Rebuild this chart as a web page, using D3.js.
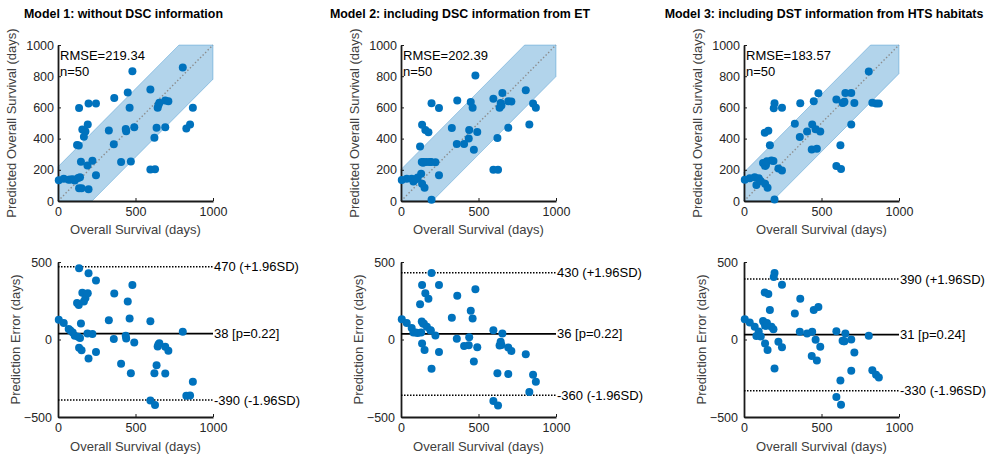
<!DOCTYPE html>
<html>
<head>
<meta charset="utf-8">
<script src="https://cdn.jsdelivr.net/npm/d3@7/dist/d3.min.js"></script>
<style>
  html, body { margin: 0; padding: 0; background: #fff; }
  svg { display: block; font-family: "Liberation Sans", Arial, Helvetica, sans-serif; }
</style>
</head>
<body>
<svg id="chart" width="989" height="458"></svg>
<script>
// ---------------- data ----------------
const titles = [
  "Model 1: without DSC information",
  "Model 2: including DSC information from ET",
  "Model 3: including DST information from HTS habitats"
];
// observed overall survival (days), shared by the three models
const osDays = [5,37,69,80,95,108,123,130,134,136,136,142,148,152,157,167,177,190,192,197,
                197,222,245,245,328,360,363,407,437,440,450,462,470,480,492,596,596,622,626,636,
                643,648,654,692,692,712,805,828,852,870];
const predModel1 = [133,143,136,138,140,132,359,148,356,596,82,152,252,82,459,412,445,228,490,625,
                    75,258,625,165,452,364,660,250,462,447,695,598,253,832,472,714,202,405,203,470,
                    598,615,630,473,645,640,855,465,490,598];
const predModel2 = [135,143,143,125,140,150,350,175,250,488,110,245,250,85,455,250,440,250,250,626,
                    8,248,596,165,468,365,645,365,400,455,635,598,328,805,442,656,200,404,200,598,
                    628,612,692,470,640,638,710,490,625,598];
const predModel3 = [136,146,152,103,146,128,243,239,437,110,225,230,255,85,450,358,260,256,595,626,
                    10,208,598,195,495,410,626,445,330,490,640,460,335,690,445,650,225,357,205,628,
                    632,636,693,692,490,628,830,630,625,625];
const predictions = [predModel1, predModel2, predModel3];
const rmse = [219.34, 202.39, 183.57];
const nObs = [50, 50, 50];
const meanDiff = [38, 36, 31];
const pValues = [0.22, 0.22, 0.24];
const upperLoA = [470, 430, 390];
const lowerLoA = [-390, -360, -330];
const xTicks = [0, 500, 1000];
const topYTicks = [0, 200, 400, 600, 800, 1000];
const bottomYTicks = [-500, 0, 500];

// ---------------- layout ----------------
const svg = d3.select("#chart");
const blue = "#0072BD";
const panelLeft = [58, 401, 744];
const panelWidth = 155;
const titleCenter = [123.5, 460, 824];
const topRow = { top: 45, bottom: 201 };
const botRow = { top: 262, bottom: 417 };

function styleAxis(g) {
  g.select(".domain").attr("stroke", "#1a1a1a").attr("stroke-width", 1.8);
  g.selectAll(".tick line").attr("stroke", "#1a1a1a").attr("stroke-width", 1);
  g.selectAll(".tick text").attr("fill", "#262626").attr("font-size", 12.5);
}

for (let m = 0; m < 3; m++) {
  const x0 = panelLeft[m];
  const pred = predictions[m];

  // title
  svg.append("text")
    .attr("x", titleCenter[m]).attr("y", 18)
    .attr("text-anchor", "middle")
    .attr("font-weight", "bold").attr("font-size", 12.4)
    .attr("fill", "#000")
    .text(titles[m]);

  // ---------- top scatter ----------
  const xs = d3.scaleLinear().domain([0, 1000]).range([x0, x0 + panelWidth]);
  const ys = d3.scaleLinear().domain([0, 1000]).range([topRow.bottom, topRow.top]);
  const g = svg.append("g");

  const r = rmse[m];
  const band = [[0, 0], [0, r], [1000 - r, 1000], [1000, 1000], [1000, 1000 - r], [r, 0]];
  g.append("path")
    .attr("d", d3.line().x(d => xs(d[0])).y(d => ys(d[1]))(band) + "Z")
    .attr("fill", blue).attr("fill-opacity", 0.3)
    .attr("stroke", blue).attr("stroke-opacity", 0.3).attr("stroke-width", 1);

  g.append("line")
    .attr("x1", xs(0)).attr("y1", ys(0)).attr("x2", xs(1000)).attr("y2", ys(1000))
    .attr("stroke", "#8c8c8c").attr("stroke-width", 1.4).attr("stroke-dasharray", "1.4,2.2");

  const axB = g.append("g").attr("transform", `translate(0,${topRow.bottom})`)
    .call(d3.axisBottom(xs).tickValues(xTicks).tickSizeInner(-3).tickSizeOuter(0).tickPadding(6).tickFormat(d3.format("d")));
  styleAxis(axB);
  const axL = g.append("g").attr("transform", `translate(${x0},0)`)
    .call(d3.axisLeft(ys).tickValues(topYTicks).tickSizeInner(-3).tickSizeOuter(0).tickPadding(4).tickFormat(d3.format("d")));
  styleAxis(axL);

  g.selectAll("circle.pt").data(osDays).join("circle")
    .attr("class", "pt")
    .attr("cx", d => xs(d)).attr("cy", (d, i) => ys(pred[i]))
    .attr("r", 4).attr("fill", blue);

  g.append("text").attr("x", x0 + 2).attr("y", 60)
    .attr("font-size", 13).attr("fill", "#000")
    .text("RMSE=" + rmse[m].toFixed(2));
  g.append("text").attr("x", x0 + 2).attr("y", 76)
    .attr("font-size", 13).attr("fill", "#000")
    .text("n=" + nObs[m]);

  g.append("text")
    .attr("x", x0 + panelWidth / 2).attr("y", 234)
    .attr("text-anchor", "middle").attr("font-size", 13).attr("fill", "#404040")
    .text("Overall Survival (days)");
  g.append("text")
    .attr("transform", `translate(${x0 - 42},${(topRow.top + topRow.bottom) / 2}) rotate(-90)`)
    .attr("text-anchor", "middle").attr("font-size", 13).attr("fill", "#404040")
    .text("Predicted Overall Survival (days)");

  // ---------- bottom Bland-Altman ----------
  const ye = d3.scaleLinear().domain([-500, 500]).range([botRow.bottom, botRow.top]);
  const gb = svg.append("g");

  const axB2 = gb.append("g").attr("transform", `translate(0,${botRow.bottom})`)
    .call(d3.axisBottom(xs).tickValues(xTicks).tickSizeInner(-3).tickSizeOuter(0).tickPadding(6).tickFormat(d3.format("d")));
  styleAxis(axB2);
  const axL2 = gb.append("g").attr("transform", `translate(${x0},0)`)
    .call(d3.axisLeft(ye).tickValues(bottomYTicks).tickSizeInner(-3).tickSizeOuter(0).tickPadding(6).tickFormat(d3.format("d")));
  styleAxis(axL2);

  const refLines = [
    { v: upperLoA[m], label: upperLoA[m] + " (+1.96SD)", dotted: true },
    { v: meanDiff[m], label: meanDiff[m] + " [p=" + pValues[m].toFixed(2) + "]", dotted: false },
    { v: lowerLoA[m], label: lowerLoA[m] + " (-1.96SD)", dotted: true }
  ];
  refLines.forEach(l => {
    gb.append("line")
      .attr("x1", xs(0)).attr("x2", xs(1000)).attr("y1", ye(l.v)).attr("y2", ye(l.v))
      .attr("stroke", "#000")
      .attr("stroke-width", l.dotted ? 1.5 : 1.8)
      .attr("stroke-dasharray", l.dotted ? "1.5,1.5" : null);
  });

  gb.selectAll("circle.pt").data(osDays).join("circle")
    .attr("class", "pt")
    .attr("cx", d => xs(d)).attr("cy", (d, i) => ye(pred[i] - d))
    .attr("r", 4).attr("fill", blue);

  refLines.forEach(l => {
    gb.append("text")
      .attr("x", xs(1000) + 1).attr("y", ye(l.v))
      .attr("dy", "0.35em").attr("font-size", 13).attr("fill", "#000")
      .text(l.label);
  });

  gb.append("text")
    .attr("x", x0 + panelWidth / 2).attr("y", 451)
    .attr("text-anchor", "middle").attr("font-size", 13).attr("fill", "#404040")
    .text("Overall Survival (days)");
  gb.append("text")
    .attr("transform", `translate(${x0 - 38},${(botRow.top + botRow.bottom) / 2}) rotate(-90)`)
    .attr("text-anchor", "middle").attr("font-size", 13).attr("fill", "#404040")
    .text("Prediction Error (days)");
}
</script>
</body>
</html>
